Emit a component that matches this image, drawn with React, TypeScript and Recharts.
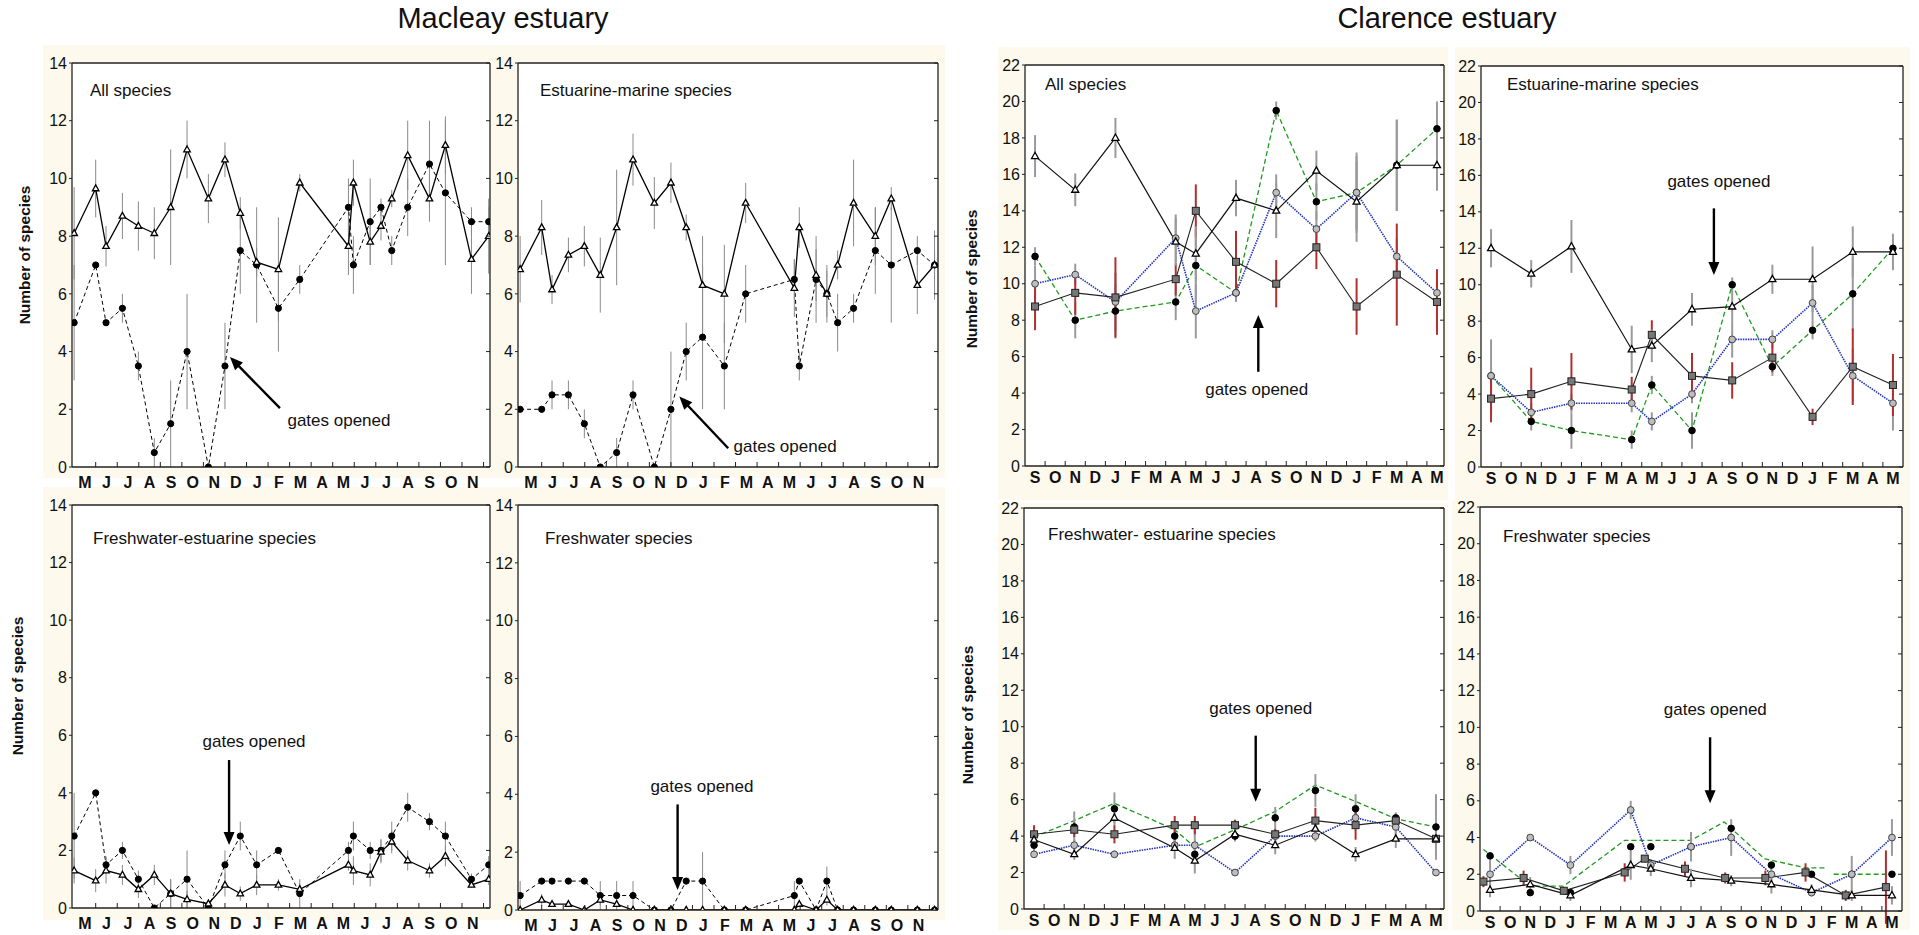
import React from 'react';
import {
  LineChart,
  Line,
  XAxis,
  YAxis,
  ErrorBar,
  CartesianGrid,
  ReferenceLine,
  ReferenceDot
} from 'recharts';

const FONT = 'Arial, "Liberation Sans", Helvetica, sans-serif';
const FRAME = '#222';
const CREAM = '#fdf9ec';

// ---------- Macleay estuary ----------
const MAC_MONTHS = ['M', 'J', 'J', 'A', 'S', 'O', 'N', 'D', 'J', 'F', 'M', 'A', 'M', 'J', 'J', 'A', 'S', 'O', 'N'];
const MAC_X = [0, 1, 1.48, 2.24, 2.98, 3.72, 4.48, 5.24, 6.23, 7.0, 7.71, 8.47, 9.48, 10.47, 12.73, 12.96, 13.74, 14.24, 14.74, 15.48, 16.49, 17.23, 18.44, 19.24];

// all species
const MAC_ALL_TRI = [8.1, 9.65, 7.65, 8.7, 8.35, 8.1, 9.0, 11.0, 9.3, 10.65, 8.8, 7.1, 6.85, 9.85, 7.65, 9.85, 7.8, 8.35, 9.3, 10.8, 9.3, 11.15, 7.2, 8.0];
const MAC_ALL_TRI_ERR = [1.6, 1.0, 0.7, 0.8, 0.85, 0.9, 2.0, 1.0, 0.85, 0.6, 0.55, 0.5, 1.8, 0.3, 1.0, 0.8, 0.8, 0.5, 0.3, 1.2, 0.8, 1.0, 1.2, 1.3];
const MAC_ALL_CIR = [5, 7, 5, 5.5, 3.5, 0.5, 1.5, 4, 0, 3.5, 7.5, 7, 5.5, 6.5, 9, 7, 8.5, 9, 7.5, 9, 10.5, 9.5, 8.5, 8.5];
const MAC_ALL_CIR_ERR = [2, 0, 0, 0.5, 0.5, 0.5, 1.5, 2, 0, 1.5, 1.5, 2, 1.5, 0.5, 1, 1, 1.5, 0.3, 0.5, 1, 1.5, 2.5, 0.5, 0.5];

// estuarine-marine species
const MAC_EM_TRI = [6.85, 8.3, 6.15, 7.35, 7.65, 6.65, 8.3, 10.65, 9.15, 9.85, 8.3, 6.3, 6.0, 9.15, 6.2, 8.3, 6.65, 6.0, 7.0, 9.15, 8.0, 9.3, 6.3, 7.0];
const MAC_EM_TRI_ERR = [1.15, 0.95, 0.5, 0.6, 0.7, 1.3, 2.0, 0.9, 0.9, 0.7, 0.45, 1.7, 1.7, 0.7, 1.0, 0.7, 0.9, 0.8, 0.5, 1.5, 1.0, 0.4, 1.0, 1.2];
const MAC_EM_CIR = [2, 2, 2.5, 2.5, 1.5, 0, 0.5, 2.5, 0, 2, 4, 4.5, 3.5, 6, 6.5, 3.5, 6.5, 6, 5, 5.5, 7.5, 7, 7.5, 7];
const MAC_EM_CIR_ERR = [0, 0, 0.5, 0.5, 0.5, 0, 0.5, 0.5, 0, 2, 1, 2.5, 1.5, 1, 0.7, 0.5, 1.5, 1.0, 1.0, 0.5, 1.5, 2, 0.5, 0.5];

// freshwater-estuarine species
const MAC_FE_TRI = [1.3, 0.95, 1.3, 1.15, 0.65, 1.15, 0.5, 0.3, 0.15, 0.8, 0.5, 0.8, 0.8, 0.65, 1.5, 1.3, 1.15, 1.95, 2.3, 1.65, 1.3, 1.8, 0.8, 1.0];
const MAC_FE_TRI_ERR = [0.45, 0.4, 0.45, 0.35, 0.3, 0.35, 0.5, 0.3, 0.15, 0.4, 0.25, 0.35, 0.2, 0.2, 0.2, 0.5, 0.4, 0.4, 0.4, 0.35, 0.25, 0.35, 0.1, 0.2];
const MAC_FE_CIR = [2.5, 4, 1.5, 2, 1, 0, 0.5, 1, 0, 1.5, 2.5, 1.5, 2, 0.5, 2, 2.5, 2, 2, 2.5, 3.5, 3, 2.5, 1, 1.5];
const MAC_FE_CIR_ERR = [1.5, 0, 0.3, 0.3, 0.3, 0, 0.5, 1, 0, 0.5, 0.5, 0.5, 0, 0.5, 0.3, 0.5, 0.3, 0.4, 0.5, 0.5, 0.3, 0.5, 0.2, 0.3];

// freshwater species
const MAC_FW_TRI = [0, 0.35, 0.2, 0.2, 0, 0.35, 0.2, 0, 0, 0, 0, 0, 0, 0, 0, 0.2, 0, 0.35, 0, 0, 0, 0, 0, 0];
const MAC_FW_TRI_ERR = [0, 0.2, 0.1, 0.1, 0, 0.2, 0.1, 0, 0, 0, 0, 0, 0, 0, 0, 0.1, 0, 0.2, 0, 0, 0, 0, 0, 0];
const MAC_FW_CIR = [0.5, 1, 1, 1, 1, 0.5, 0.5, 0.5, 0, 0, 1, 1, 0, 0, 0.5, 1, 0, 1, 0, 0, 0, 0, 0, 0];
const MAC_FW_CIR_ERR = [0.5, 0, 0, 0, 0, 0.5, 0.5, 0.5, 0, 0, 0, 1, 0, 0, 0.5, 0, 0, 0.5, 0, 0, 0, 0, 0, 0];

// ---------- Clarence estuary ----------
const CLA_MONTHS = ['S', 'O', 'N', 'D', 'J', 'F', 'M', 'A', 'M', 'J', 'J', 'A', 'S', 'O', 'N', 'D', 'J', 'F', 'M', 'A', 'M'];
const CLA_X = [0.5, 2.5, 4.5, 7.5, 8.5, 10.5, 12.5, 14.5, 16.5, 18.5, 20.5];

// all species
const CLA_ALL_TRI = [17, 15.15, 18, 12.3, 11.65, 14.7, 14, 16.2, 14.5, 16.5, 16.5];
const CLA_ALL_TRI_ERR = [1.15, 0.9, 1.1, 1.3, 1.5, 1.0, 1.5, 1.1, 2.2, 2.5, 1.4];
const CLA_ALL_BLK = [11.5, 8, 8.5, 9, 11, 9.5, 19.5, 14.5, 15, 16.5, 18.5];
const CLA_ALL_BLK_ERR = [0.5, 1.0, 1.5, 1.0, 2.0, 0.5, 0.5, 1.0, 2.0, 2.5, 1.5];
const CLA_ALL_GRY = [10, 10.5, 9, 12.5, 8.5, 9.5, 15, 13, 15, 11.5, 9.5];
const CLA_ALL_GRY_ERR = [1.0, 0.6, 1.6, 1.3, 1.5, 0.5, 1.0, 1.0, 2.2, 1.0, 0.5];
const CLA_ALL_SQ = [8.75, 9.5, 9.25, 10.25, 14, 11.2, 10, 12, 8.75, 10.5, 9];
const CLA_ALL_SQ_ERR = [1.3, 1.2, 2.2, 0.9, 1.45, 1.7, 1.3, 1.2, 1.55, 2.8, 1.8];

// estuarine-marine species
const CLA_EM_TRI = [12, 10.6, 12.1, 6.45, 6.65, 8.65, 8.8, 10.3, 10.3, 11.8, 11.8];
const CLA_EM_TRI_ERR = [1.05, 0.75, 1.45, 1.3, 0.9, 0.9, 0.8, 0.8, 1.8, 1.4, 1.0];
const CLA_EM_BLK = [5, 2.5, 2, 1.5, 4.5, 2, 10, 5.5, 7.5, 9.5, 12];
const CLA_EM_BLK_ERR = [0.5, 0.5, 1.0, 0.5, 0.5, 1.0, 0.4, 0.5, 0.5, 2.0, 0.5];
const CLA_EM_GRY = [5, 3, 3.5, 3.5, 2.5, 4, 7, 7, 9, 5, 3.5];
const CLA_EM_GRY_ERR = [2, 0.5, 0.5, 0.5, 0.5, 0.5, 1.0, 0.5, 1.0, 1.5, 1.5];
const CLA_EM_SQ = [3.75, 4, 4.7, 4.25, 7.25, 5, 4.75, 6, 2.75, 5.5, 4.5];
const CLA_EM_SQ_ERR = [1.3, 1.45, 1.55, 0.7, 0.8, 1.25, 1.0, 0.8, 0.45, 2.1, 1.7];

// freshwater-estuarine species
const CLA_FE_TRI = [3.8, 3, 5, 3.35, 2.65, 4.1, 3.5, 4.4, 3, 3.85, 3.85];
const CLA_FE_TRI_ERR = [0.3, 0.3, 0.3, 0.6, 0.7, 0.3, 0.5, 0.3, 0.4, 0.5, 0.5];
const CLA_FE_BLK = [3.5, 4.5, 5.5, 4, 3, 4, 5, 6.5, 5.5, 5, 4.5];
const CLA_FE_BLK_ERR = [0.5, 0.85, 0.9, 0.4, 0.6, 0.3, 0.6, 0.9, 0.8, 0.3, 1.8];
const CLA_FE_GRY = [3, 3.5, 3, 3.5, 3.5, 2, 4, 4, 5, 4.5, 2];
const CLA_FE_GRY_ERR = [0.2, 0.3, 0.2, 0.3, 1.0, 0.1, 0.4, 0.3, 0.5, 0.4, 0.1];
const CLA_FE_SQ = [4.1, 4.35, 4.1, 4.6, 4.6, 4.6, 4.1, 4.85, 4.6, 4.85, 3.85];
const CLA_FE_SQ_ERR = [0.5, 0.4, 0.5, 0.5, 0.5, 0.3, 0.3, 0.7, 0.8, 0.3, 0.4];
const CLA_FE_GREEN = [3.95, 4.85, 5.8, 4.35, 3.4, 4.35, 5.35, 6.8, 5.9, 4.95, 4.5];

// freshwater species
const CLA_FW_TRI = [1.15, 1.45, 0.85, 2.5, 2.3, 1.8, 1.65, 1.45, 1.15, 0.85, 0.85];
const CLA_FW_TRI_ERR = [0.4, 0.4, 0.3, 0.8, 0.4, 0.5, 0.3, 0.5, 0.3, 0.3, 0.5];
const CLA_FW_BLK = [3, 1, 1, 3.5, 3.5, 3.5, 4.5, 2.5, 2, 2, 2];
const CLA_FW_GRY = [2, 4, 2.5, 5.5, 2.5, 3.5, 4, 2, 1, 2, 4];
const CLA_FW_GRY_ERR = [0.8, 0, 0.5, 0.5, 0.3, 0.8, 1.0, 0.5, 0.2, 1.0, 1.0];
const CLA_FW_SQ_X = [0.17, 2.17, 4.17, 7.2, 8.2, 10.2, 12.2, 14.2, 16.2, 18.2, 20.2];
const CLA_FW_SQ = [1.6, 1.8, 1.1, 2.1, 2.85, 2.3, 1.8, 1.8, 2.1, 0.85, 1.3];
const CLA_FW_SQ_ERR = [0.3, 0.4, 0.2, 0.5, 0.2, 0.4, 0.3, 0.4, 0.5, 0.3, 2.0];
const CLA_FW_GREEN_X = [0.17, 2.5, 4.15, 7.2, 10.5, 12.15, 14.15, 16.2, 17.2, 17.4, 17.6, 20.5];
const CLA_FW_GREEN = [3.35, 1.35, 1.35, 3.85, 3.85, 4.85, 2.85, 2.35, 2.35, null, 2.0, 2.0];

type Pt = { x: number; y: number | null; e: number };
const pts = (xs: number[], ys: (number | null)[], es?: number[]): Pt[] =>
  xs.map((x, i) => ({ x, y: ys[i], e: es ? es[i] : 0 }));

// ---------- markers ----------
const triangle = (s: number) => (p: any) => {
  if (p.cx == null || p.cy == null) return <g key={`t${p.index}`} />;
  const h = s * 0.9;
  return (
    <path
      key={`t${p.index}`}
      d={`M${p.cx},${p.cy - h * 0.62}L${p.cx + s / 2},${p.cy + h * 0.38}L${p.cx - s / 2},${p.cy + h * 0.38}Z`}
      fill="#fff"
      stroke="#000"
      strokeWidth={1.3}
    />
  );
};
const disc = (r: number, fill: string, stroke: string) => (p: any) => {
  if (p.cx == null || p.cy == null) return <g key={`c${p.index}`} />;
  return <circle key={`c${p.index}`} cx={p.cx} cy={p.cy} r={r} fill={fill} stroke={stroke} strokeWidth={1} />;
};
const square = (s: number) => (p: any) => {
  if (p.cx == null || p.cy == null) return <g key={`s${p.index}`} />;
  return <rect key={`s${p.index}`} x={p.cx - s / 2} y={p.cy - s / 2} width={s} height={s} fill="#777" stroke="#222" strokeWidth={1} />;
};

type Series = {
  data: Pt[];
  stroke: string;
  width: number;
  dash?: string;
  dot: any;
  err?: string;
  errW?: number;
};

const GREY_ERR = '#9a9a9a';
const RED_ERR = '#b03030';

const macSeries = (cir: number[], cirE: number[], tri: number[], triE: number[]): Series[] => [
  { data: pts(MAC_X, cir, cirE), stroke: '#000', width: 1, dash: '4 3', dot: disc(3.1, '#000', '#000'), err: '#8a8a8a', errW: 1 },
  { data: pts(MAC_X, tri, triE), stroke: '#000', width: 1.3, dot: triangle(6.5), err: '#8a8a8a', errW: 1 }
];

const greenLine = (data: Pt[], withDots: boolean, errs: boolean): Series => ({
  data,
  stroke: '#1f9a1f',
  width: 1.3,
  dash: '5 3',
  dot: withDots ? disc(3.3, '#000', '#000') : false,
  err: errs ? GREY_ERR : undefined,
  errW: 2
});

const claCore = (gry: number[], gryE: number[], sqX: number[], sq: number[], sqE: number[], tri: number[], triE: number[]): Series[] => [
  { data: pts(CLA_X, gry, gryE), stroke: '#2233bb', width: 1.6, dash: '1.5 1', dot: disc(3.4, '#bdbdbd', '#444'), err: GREY_ERR, errW: 2 },
  { data: pts(sqX, sq, sqE), stroke: '#222', width: 1.1, dot: square(7), err: RED_ERR, errW: 2 },
  { data: pts(CLA_X, tri, triE), stroke: '#111', width: 1.2, dot: triangle(7), err: GREY_ERR, errW: 2 }
];

type Anno = { tx: number; ty: number; x1: number; y1: number; x2: number; y2: number; angle: number };

type PanelDef = {
  key: string;
  plot: [number, number, number, number];
  xDomain: [number, number];
  yMax: number;
  months: string[];
  labelDy: number;
  series: Series[];
  anno: Anno;
};

const PANELS: PanelDef[] = [
  {
    key: 'macAll', plot: [72, 63, 490, 467], xDomain: [-0.1, 19.3], yMax: 14, months: MAC_MONTHS, labelDy: 21,
    series: macSeries(MAC_ALL_CIR, MAC_ALL_CIR_ERR, MAC_ALL_TRI, MAC_ALL_TRI_ERR),
    anno: { tx: 12.29, ty: 1.6, x1: 9.55, y1: 2.04, x2: 7.23, y2: 3.81, angle: -134.4 }
  },
  {
    key: 'macEM', plot: [518, 63, 938, 467], xDomain: [-0.1, 19.4], yMax: 14, months: MAC_MONTHS, labelDy: 21,
    series: macSeries(MAC_EM_CIR, MAC_EM_CIR_ERR, MAC_EM_TRI, MAC_EM_TRI_ERR),
    anno: { tx: 12.3, ty: 0.7, x1: 9.66, y1: 0.65, x2: 7.39, y2: 2.44, angle: -133.5 }
  },
  {
    key: 'macFE', plot: [72, 505, 490, 908], xDomain: [-0.1, 19.3], yMax: 14, months: MAC_MONTHS, labelDy: 21,
    series: macSeries(MAC_FE_CIR, MAC_FE_CIR_ERR, MAC_FE_TRI, MAC_FE_TRI_ERR),
    anno: { tx: 8.35, ty: 5.78, x1: 7.19, y1: 5.14, x2: 7.19, y2: 2.19, angle: 90 }
  },
  {
    key: 'macFW', plot: [518, 505, 938, 910], xDomain: [-0.1, 19.4], yMax: 14, months: MAC_MONTHS, labelDy: 21,
    series: macSeries(MAC_FW_CIR, MAC_FW_CIR_ERR, MAC_FW_TRI, MAC_FW_TRI_ERR),
    anno: { tx: 8.44, ty: 4.26, x1: 7.31, y1: 3.65, x2: 7.31, y2: 0.69, angle: 90 }
  },
  {
    key: 'claAll', plot: [1025, 65, 1444, 466], xDomain: [0, 20.85], yMax: 22, months: CLA_MONTHS, labelDy: 17,
    series: [
      greenLine(pts(CLA_X, CLA_ALL_BLK, CLA_ALL_BLK_ERR), true, true),
      ...claCore(CLA_ALL_GRY, CLA_ALL_GRY_ERR, CLA_X, CLA_ALL_SQ, CLA_ALL_SQ_ERR, CLA_ALL_TRI, CLA_ALL_TRI_ERR)
    ],
    anno: { tx: 11.53, ty: 4.17, x1: 11.61, y1: 5.17, x2: 11.61, y2: 8.28, angle: -90 }
  },
  {
    key: 'claEM', plot: [1481, 66, 1903, 467], xDomain: [0, 21], yMax: 22, months: CLA_MONTHS, labelDy: 17,
    series: [
      greenLine(pts(CLA_X, CLA_EM_BLK, CLA_EM_BLK_ERR), true, true),
      ...claCore(CLA_EM_GRY, CLA_EM_GRY_ERR, CLA_X, CLA_EM_SQ, CLA_EM_SQ_ERR, CLA_EM_TRI, CLA_EM_TRI_ERR)
    ],
    anno: { tx: 11.84, ty: 15.65, x1: 11.59, y1: 14.19, x2: 11.59, y2: 10.53, angle: 90 }
  },
  {
    key: 'claFE', plot: [1024, 508, 1444, 909], xDomain: [0, 20.9], yMax: 22, months: CLA_MONTHS, labelDy: 17,
    series: [
      greenLine(pts(CLA_X, CLA_FE_GREEN), false, false),
      { data: pts(CLA_X, CLA_FE_BLK, CLA_FE_BLK_ERR), stroke: 'none', width: 0, dot: disc(3.3, '#000', '#000'), err: GREY_ERR, errW: 2 },
      ...claCore(CLA_FE_GRY, CLA_FE_GRY_ERR, CLA_X, CLA_FE_SQ, CLA_FE_SQ_ERR, CLA_FE_TRI, CLA_FE_TRI_ERR)
    ],
    anno: { tx: 11.78, ty: 11.01, x1: 11.53, y1: 9.51, x2: 11.53, y2: 5.89, angle: 90 }
  },
  {
    key: 'claFW', plot: [1480, 507, 1902, 911], xDomain: [0, 21], yMax: 22, months: CLA_MONTHS, labelDy: 17,
    series: [
      greenLine(pts(CLA_FW_GREEN_X, CLA_FW_GREEN), false, false),
      { data: pts(CLA_X, CLA_FW_BLK), stroke: 'none', width: 0, dot: disc(3.3, '#000', '#000') },
      ...claCore(CLA_FW_GRY, CLA_FW_GRY_ERR, CLA_FW_SQ_X, CLA_FW_SQ, CLA_FW_SQ_ERR, CLA_FW_TRI, CLA_FW_TRI_ERR)
    ],
    anno: { tx: 11.71, ty: 10.99, x1: 11.45, y1: 9.46, x2: 11.45, y2: 5.87, angle: 90 }
  }
];

// ---------- ticks ----------
const bottomTick = (months: string[], dy: number) => (p: any) => {
  const v = p.payload.value;
  if (Math.abs(v - Math.round(v)) < 1e-6) {
    return <line x1={p.x} x2={p.x} y1={p.y} y2={p.y - 5} stroke={FRAME} strokeWidth={1} />;
  }
  return (
    <text x={p.x} y={p.y + dy} textAnchor="middle" fontFamily={FONT} fontWeight="bold" fontSize={16} fill="#111">
      {months[Math.floor(v)]}
    </text>
  );
};
const topTick = (p: any) => <line x1={p.x} x2={p.x} y1={p.y} y2={p.y + 4} stroke={FRAME} strokeWidth={1} />;
const rightTick = (p: any) => <line x1={p.x} x2={p.x - 4} y1={p.y} y2={p.y} stroke={FRAME} strokeWidth={1} />;

const arrowHead = (angleDeg: number, len = 13, wid = 11) => (p: any) => {
  const a = (angleDeg * Math.PI) / 180;
  const ux = Math.cos(a);
  const uy = Math.sin(a);
  const bx = p.cx - ux * len;
  const by = p.cy - uy * len;
  const nx = -uy;
  const ny = ux;
  return (
    <path
      d={`M${p.cx},${p.cy}L${bx + (nx * wid) / 2},${by + (ny * wid) / 2}L${bx - (nx * wid) / 2},${by - (ny * wid) / 2}Z`}
      fill="#000"
    />
  );
};
const annoText = (p: any) => (
  <text x={p.cx} y={p.cy} textAnchor="middle" dominantBaseline="central" fontFamily={FONT} fontSize={17} fill="#111">
    gates opened
  </text>
);

const YW = 34;
const XH = 30;
const ML = 2;
const MT = 12;
const MR = 5;
const MB = 2;

const Panel: React.FC<{ p: PanelDef }> = ({ p }) => {
  const [x0, y0, x1, y1] = p.plot;
  const width = x1 - x0 + ML + YW + MR + 1;
  const height = y1 - y0 + MT + 1 + XH + MB;
  const yTicks: number[] = [];
  for (let v = 0; v <= p.yMax; v += 2) yTicks.push(v);
  const bounds = p.months.map((_, i) => i + 1).filter((b) => b < p.xDomain[1]);
  const centers = p.months.map((_, i) => i + 0.5);
  const xTicks = [...centers, ...bounds].sort((a, b) => a - b);
  const a = p.anno;
  const sx = a.x2 - (a.x2 - a.x1) * 0.12;
  const sy = a.y2 - (a.y2 - a.y1) * 0.12;

  return (
    <div style={{ position: 'absolute', left: x0 - ML - YW, top: y0 - MT - 1 }}>
      <LineChart width={width} height={height} margin={{ top: MT, right: MR, bottom: MB, left: ML }}>
        <CartesianGrid stroke="none" fill="#fff" />
        <XAxis
          type="number"
          dataKey="x"
          domain={p.xDomain}
          allowDataOverflow
          ticks={xTicks}
          interval={0}
          height={XH}
          tickSize={0}
          tickMargin={0}
          tickLine={false}
          axisLine={{ stroke: FRAME, strokeWidth: 1.3 }}
          tick={bottomTick(p.months, p.labelDy)}
        />
        <XAxis
          xAxisId="t"
          orientation="top"
          type="number"
          domain={p.xDomain}
          allowDataOverflow
          ticks={bounds}
          interval={0}
          height={1}
          tickSize={0}
          tickMargin={0}
          tickLine={false}
          axisLine={{ stroke: FRAME, strokeWidth: 1.3 }}
          tick={topTick}
        />
        <YAxis
          type="number"
          domain={[0, p.yMax]}
          allowDataOverflow
          ticks={yTicks}
          interval={0}
          width={YW}
          tickSize={3}
          tickMargin={2}
          axisLine={{ stroke: FRAME, strokeWidth: 1.3 }}
          tickLine={{ stroke: FRAME }}
          tick={{ fontSize: 16, fill: '#111', fontFamily: FONT }}
        />
        <YAxis
          yAxisId="r"
          orientation="right"
          type="number"
          domain={[0, p.yMax]}
          allowDataOverflow
          ticks={yTicks}
          interval={0}
          width={1}
          tickSize={0}
          tickMargin={0}
          tickLine={false}
          axisLine={{ stroke: FRAME, strokeWidth: 1.3 }}
          tick={rightTick}
        />
        {p.series.map((s, i) => (
          <Line
            key={`${p.key}-s${i}`}
            data={s.data}
            dataKey="y"
            type="linear"
            stroke={s.stroke}
            strokeWidth={s.width}
            strokeDasharray={s.dash}
            dot={s.dot}
            activeDot={false}
            connectNulls={false}
            isAnimationActive={false}
          >
            {s.err ? <ErrorBar dataKey="e" width={0} stroke={s.err} strokeWidth={s.errW} direction="y" /> : null}
          </Line>
        ))}
        <ReferenceLine
          segment={[{ x: a.x1, y: a.y1 }, { x: sx, y: sy }]}
          stroke="#000"
          strokeWidth={2.4}
        />
        <ReferenceDot x={a.x2} y={a.y2} r={1} shape={arrowHead(a.angle)} />
        <ReferenceDot x={a.tx} y={a.ty} r={1} shape={annoText} />
      </LineChart>
    </div>
  );
};

const PANEL_LABELS = [
  { text: 'All species', left: 90, top: 81.6 },
  { text: 'Estuarine-marine species', left: 540, top: 81.6 },
  { text: 'Freshwater-estuarine species', left: 93, top: 529.6 },
  { text: 'Freshwater species', left: 545, top: 529.6 },
  { text: 'All species', left: 1045, top: 75.6 },
  { text: 'Estuarine-marine species', left: 1507, top: 75.6 },
  { text: 'Freshwater- estuarine species', left: 1048, top: 526.3 },
  { text: 'Freshwater species', left: 1503, top: 527.6 }
];

const Y_LABELS = [
  { cx: 25, cy: 255 },
  { cx: 18, cy: 686 },
  { cx: 972, cy: 279 },
  { cx: 968, cy: 715 }
];

const CREAM_RECTS = [
  { l: 43, t: 45, w: 902, h: 433 },
  { l: 43, t: 487, w: 902, h: 433 },
  { l: 998, t: 47, w: 450, h: 453 },
  { l: 1455, t: 47, w: 455, h: 453 },
  { l: 998, t: 503, w: 450, h: 427 },
  { l: 1452, t: 500, w: 458, h: 430 }
];

const App: React.FC = () => (
  <div
    style={{
      position: 'absolute',
      left: 0,
      top: 0,
      width: 1919,
      height: 935,
      background: '#fff',
      fontFamily: FONT,
      overflow: 'hidden'
    }}
  >
    {CREAM_RECTS.map((r, i) => (
      <div key={`cr${i}`} style={{ position: 'absolute', left: r.l, top: r.t, width: r.w, height: r.h, background: CREAM }} />
    ))}
    {PANELS.map((p) => (
      <Panel key={p.key} p={p} />
    ))}
    <div style={{ position: 'absolute', left: 503, top: 18, transform: 'translate(-50%, -50%)', fontSize: 29, lineHeight: 1, whiteSpace: 'nowrap', color: '#111' }}>
      Macleay estuary
    </div>
    <div style={{ position: 'absolute', left: 1447, top: 18, transform: 'translate(-50%, -50%)', fontSize: 29, lineHeight: 1, whiteSpace: 'nowrap', color: '#111' }}>
      Clarence estuary
    </div>
    {PANEL_LABELS.map((l, i) => (
      <div key={`pl${i}`} style={{ position: 'absolute', left: l.left, top: l.top, fontSize: 17, lineHeight: '17px', whiteSpace: 'nowrap', color: '#111' }}>
        {l.text}
      </div>
    ))}
    {Y_LABELS.map((l, i) => (
      <div
        key={`yl${i}`}
        style={{
          position: 'absolute',
          left: l.cx,
          top: l.cy,
          transform: 'translate(-50%, -50%) rotate(-90deg)',
          fontSize: 15.5,
          fontWeight: 'bold',
          lineHeight: 1,
          whiteSpace: 'nowrap',
          color: '#111'
        }}
      >
        Number of species
      </div>
    ))}
  </div>
);

export default App;
